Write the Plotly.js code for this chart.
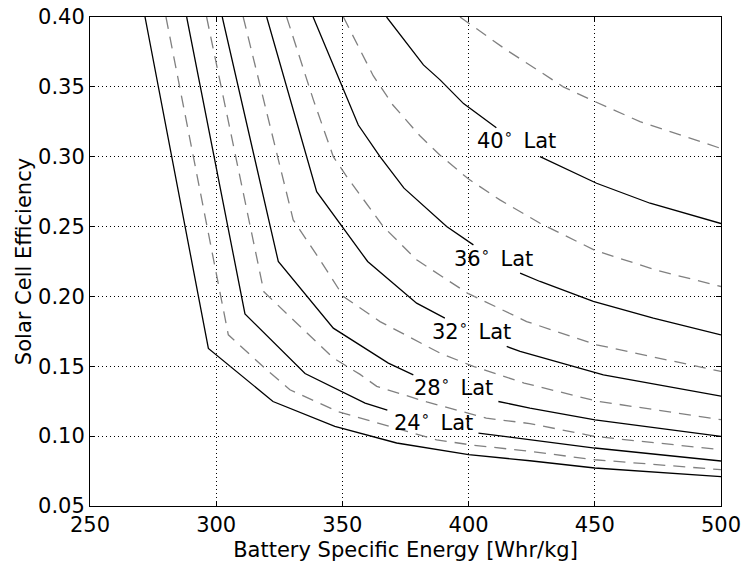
<!DOCTYPE html>
<html>
<head>
<meta charset="utf-8">
<script src="https://cdn.plot.ly/plotly-3.0.1.min.js"></script>
<style>
  html, body { margin: 0; padding: 0; background: #fff; }
  #chart { width: 745px; height: 565px; }
</style>
</head>
<body>
<div id="chart"></div>
<script>
// Solid contour lines (latitude levels); null marks the inline-label gap
const s20_x = [271.8, 296.9, 322.5, 347, 371.5, 400, 424.3, 450, 500];
const s20_y = [0.40, 0.1628, 0.1248, 0.107, 0.0951, 0.0867, 0.0824, 0.0772, 0.0710];

const s24_x = [288.3, 311.4, 335.2, 359, 367.8, null, 403.9, 424.3, 450, 500];
const s24_y = [0.40, 0.1875, 0.1448, 0.1237, 0.1187, null, 0.1022, 0.0974, 0.0915, 0.0822];

const s28_x = [302.4, 324.6, 346.4, 368.2, 378.1, null, 411.8, 424.3, 450.1, 500];
const s28_y = [0.40, 0.225, 0.1773, 0.1523, 0.1439, null, 0.1248, 0.1201, 0.1117, 0.0998];

const s32_x = [320, 339.8, 360, 379.4, 390.6, null, 415.1, 420.4, 453.4, 500];
const s32_y = [0.40, 0.275, 0.225, 0.1952, 0.1845, null, 0.1642, 0.1606, 0.1439, 0.1286];

const s36_x = [338.4, 356.3, 364.9, 374.4, 391.3, 401.9, null, 420.4, 428.3, 449.4, 473.2, 500];
const s36_y = [0.40, 0.3227, 0.30, 0.2775, 0.25, 0.2369, null, 0.2167, 0.2107, 0.1964, 0.1845, 0.1725];

const s40_x = [367.5, 373, 382.1, 388.7, 398, 411, null, 428.3, 450.7, 471.9, 500];
const s40_y = [0.40, 0.3871, 0.3657, 0.355, 0.338, 0.3207, null, 0.30, 0.281, 0.2667, 0.2522];

// Dashed intermediate contour lines
const d22_x = [280.1, 304.8, 320, 329.2, 348, 366.2, 387.3, 400.6, 424.3, 450, 500];
const d22_y = [0.40, 0.1725, 0.1475, 0.1332, 0.1177, 0.1081, 0.0974, 0.0938, 0.0891, 0.0831, 0.0760];

const d26_x = [296.2, 318.9, 346.4, 357, 363.6, 376, 383.4, 407, 424.3, 450, 500];
const d26_y = [0.40, 0.2033, 0.1559, 0.1442, 0.1356, 0.129, 0.1245, 0.1129, 0.109, 0.0998, 0.0903];

const d30_x = [310.7, 330.5, 341.1, 350.4, 364.9, 388.7, 401.9, 422, 450.4, 500];
const d30_y = [0.40, 0.2548, 0.2262, 0.20, 0.182, 0.1594, 0.1499, 0.138, 0.1252, 0.1118];

const d34_x = [327.9, 338.5, 346.4, 351.7, 366.2, 379.4, 399.5, 423, 450.7, 500];
const d34_y = [0.40, 0.3407, 0.30, 0.2858, 0.25, 0.2262, 0.2024, 0.182, 0.1654, 0.1463];

const d38_x = [350.4, 362.2, 370, 380.7, 388.7, 400, 412.4, 428.3, 450.4, 475, 500];
const d38_y = [0.40, 0.358, 0.337, 0.315, 0.301, 0.284, 0.2691, 0.2524, 0.2327, 0.2185, 0.2071];

const d42_x = [396.6, 415, 428.3, 437.5, 450.1, 467.9, 500];
const d42_y = [0.40, 0.3764, 0.3609, 0.35, 0.3394, 0.3251, 0.3059];

// Inline contour labels
const labelText = ["40", "36", "32", "28", "24"];
const labelX = [419, 409.8, 401.2, 394, 386];
const labelY = [0.313, 0.2283, 0.1761, 0.136, 0.1105];

const xTicks = [250, 300, 350, 400, 450, 500];
const yTicks = [0.05, 0.10, 0.15, 0.20, 0.25, 0.30, 0.35, 0.40];

const solid = [[s20_x, s20_y], [s24_x, s24_y], [s28_x, s28_y], [s32_x, s32_y], [s36_x, s36_y], [s40_x, s40_y]];
const dashed = [[d22_x, d22_y], [d26_x, d26_y], [d30_x, d30_y], [d34_x, d34_y], [d38_x, d38_y], [d42_x, d42_y]];

const traces = [];
dashed.forEach(([x, y]) => traces.push({
  x: x, y: y, type: 'scatter', mode: 'lines', connectgaps: false, hoverinfo: 'skip',
  line: { color: '#808080', width: 1.3, dash: '12px,8px' }, showlegend: false
}));
solid.forEach(([x, y]) => traces.push({
  x: x, y: y, type: 'scatter', mode: 'lines', connectgaps: false, hoverinfo: 'skip',
  line: { color: '#000000', width: 1.3 }, showlegend: false
}));

const FONT = 'DejaVu Sans, Liberation Sans, sans-serif';

const annotations = labelText.map((t, i) => ({
  x: labelX[i], y: labelY[i], xref: 'x', yref: 'y',
  text: t + '<sup>∘</sup>\u2002Lat', showarrow: false,
  xanchor: 'center', yanchor: 'middle',
  font: { family: FONT, size: 21, color: '#000' }
}));

const axisCommon = {
  showline: true, linecolor: '#000', linewidth: 1, mirror: 'ticks',
  ticks: 'inside', ticklen: 5, tickcolor: '#000', tickwidth: 1,
  showgrid: true, gridcolor: '#000', gridwidth: 1, griddash: '1px,3px',
  zeroline: false,
  tickfont: { family: FONT, size: 21, color: '#000' }
};

const layout = {
  width: 745, height: 565,
  margin: { l: 90, r: 24, t: 17, b: 59 },
  paper_bgcolor: '#fff', plot_bgcolor: '#fff',
  font: { family: FONT, color: '#000' },
  xaxis: Object.assign({}, axisCommon, {
    range: [250, 500], tickmode: 'array', tickvals: xTicks,
    ticktext: xTicks.map(String),
    title: { text: 'Battery Specific Energy [Whr/kg]', font: { family: FONT, size: 21, color: '#000' }, standoff: 6 }
  }),
  yaxis: Object.assign({}, axisCommon, {
    range: [0.05, 0.40], tickmode: 'array', tickvals: yTicks,
    ticktext: yTicks.map(v => v.toFixed(2)),
    title: { text: 'Solar Cell Efficiency', font: { family: FONT, size: 21, color: '#000' }, standoff: 0 }
  }),
  annotations: annotations,
  showlegend: false
};

Plotly.newPlot('chart', traces, layout, { displayModeBar: false, staticPlot: true });
</script>
</body>
</html>
